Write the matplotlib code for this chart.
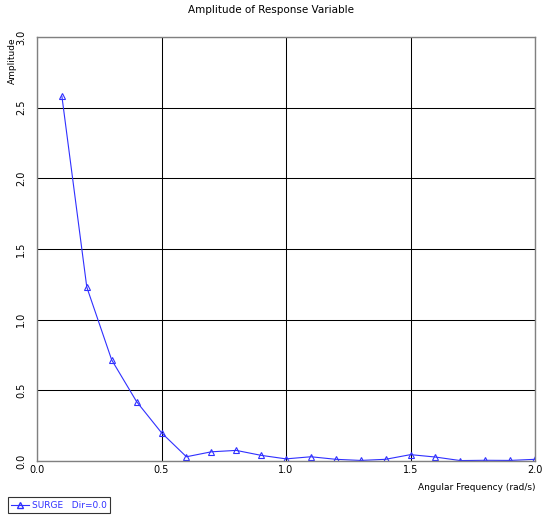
import matplotlib
matplotlib.use("Agg")
import matplotlib.pyplot as plt
from matplotlib.lines import Line2D

freq = [0.1, 0.2, 0.3, 0.4, 0.5, 0.6, 0.7, 0.8, 0.9, 1.0,
        1.1, 1.2, 1.3, 1.4, 1.5, 1.6, 1.7, 1.8, 1.9, 2.0]
amp = [2.58, 1.23, 0.715, 0.42, 0.20, 0.03, 0.065, 0.075, 0.04, 0.015,
       0.03, 0.012, 0.004, 0.012, 0.045, 0.028, 0.003, 0.005, 0.004, 0.012]
xticks = [0.0, 0.5, 1.0, 1.5, 2.0]
yticks = [0.0, 0.5, 1.0, 1.5, 2.0, 2.5, 3.0]

W, H = 542, 522
fig = plt.figure(figsize=(W/100, H/100), dpi=100)
ax = fig.add_axes([37/W, 1-461/H, (535-37)/W, (461-37)/H])

blue = "#3030ff"
ax.plot(freq, amp, color=blue, lw=0.8, marker="^", ms=4.5, mfc="none",
        mec=blue, mew=0.8)
ax.set_xlim(0, 2.0)
ax.set_ylim(0, 3.0)
ax.set_xticks(xticks)
ax.set_yticks(yticks)
ax.set_xticklabels([f"{v:.1f}" for v in xticks], fontsize=7, family="DejaVu Sans")
ax.set_yticklabels([f"{v:.1f}" for v in yticks], fontsize=7, rotation=90,
                   va="center", family="DejaVu Sans")
ax.tick_params(axis="x", length=0, pad=3)
ax.tick_params(axis="y", length=0, pad=8)
ax.grid(True, color="black", lw=0.75)
for s in ax.spines.values():
    s.set_color("#808080")
    s.set_linewidth(1.0)

fig.text(0.5, 1-10/H, "Amplitude of Response Variable", ha="center", va="center",
         fontsize=7.5)
fig.text(535/W, 1-487/H, "Angular Frequency (rad/s)", ha="right", va="center",
         fontsize=6.5)
fig.text(12/W, 1-37/H, "Amplitude", ha="center", va="top", rotation=90,
         fontsize=6.5)

# legend box
handle = Line2D([], [], color=blue, lw=0.8, marker="^", ms=4.5, mfc="none", mec=blue)
leg = fig.legend([handle], ["SURGE   Dir=0.0"], loc="lower left",
                 bbox_to_anchor=(3/W, 4/H), fontsize=6.5, frameon=True,
                 fancybox=False, edgecolor="black", handlelength=2.0,
                 borderpad=0.4, handletextpad=0.3, labelcolor=blue)
leg.get_frame().set_linewidth(0.8)

fig.savefig("out.png", dpi=100)
